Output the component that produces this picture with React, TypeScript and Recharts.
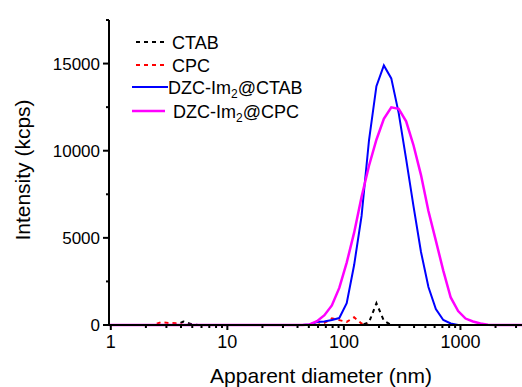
import { LineChart, Line, XAxis, YAxis } from 'recharts';

// DLS size bins (nm)
const sizes = [
  0.9649, 1.117, 1.294, 1.499, 1.736, 2.01, 2.328, 2.696, 3.122, 3.615,
  4.187, 4.849, 5.615, 6.503, 7.531, 8.721, 10.1, 11.7, 13.54, 15.69,
  18.17, 21.04, 24.36, 28.21, 32.67, 37.84, 43.82, 50.75, 58.77, 68.06,
  78.82, 91.28, 105.7, 122.4, 141.8, 164.2, 190.1, 220.2, 255.0, 295.3,
  342.0, 396.1, 458.7, 531.2, 615.1, 712.4, 825.0, 955.4, 1106, 1281,
  1484, 1718, 1990, 2305, 2669, 3091, 3580,
];

const ctab = [
  0, 0, 0, 0, 0, 0, 0, 0, 0, 0,
  200, 60, 0, 0, 0, 0, 0, 0, 0, 0,
  0, 0, 0, 0, 0, 0, 0, 0, 0, 0,
  0, 0, 0, 0, 0, 150, 1250, 250, 0, 0,
  0, 0, 0, 0, 0, 0, 0, 0, 0, 0,
  0, 0, 0, 0, 0, 0, 0,
];

const cpc = [
  0, 0, 0, 0, 0, 0, 0, 160, 120, 100,
  0, 0, 0, 0, 0, 0, 0, 0, 0, 0,
  0, 0, 0, 0, 0, 0, 0, 0, 0, 120,
  380, 280, 180, 440, 80, 0, 0, 0, 0, 0,
  0, 0, 0, 0, 0, 0, 0, 0, 0, 0,
  0, 0, 0, 0, 0, 0, 0,
];

const dzcCtab = [
  0, 0, 0, 0, 0, 0, 0, 0, 0, 0,
  0, 0, 0, 0, 0, 0, 0, 0, 0, 0,
  0, 0, 0, 0, 0, 0, 0, 30, 170, 200,
  290, 400, 1250, 3440, 6260, 10600, 13700, 14890, 14150, 12160,
  9520, 6790, 4190, 2180, 920, 290, 90, 0, 0, 0,
  0, 0, 0, 0, 0, 0, 0,
];

const dzcCpc = [
  0, 0, 0, 0, 0, 0, 0, 0, 0, 0,
  0, 0, 0, 0, 0, 0, 0, 0, 0, 0,
  0, 0, 0, 0, 0, 0, 0, 30, 220, 560,
  1120, 2130, 3580, 5300, 7360, 9140, 10630, 11830, 12490, 12400,
  11690, 10300, 8600, 6540, 4840, 3120, 1580, 800, 370, 200,
  90, 10, 0, 0, 0, 0, 0,
];

const xMajor = [1, 10, 100, 1000];
const xTicks = [
  1, 2, 3, 4, 5, 6, 7, 8, 9,
  10, 20, 30, 40, 50, 60, 70, 80, 90,
  100, 200, 300, 400, 500, 600, 700, 800, 900,
  1000, 2000, 3000,
];
const yTicks = [0, 2500, 5000, 7500, 10000, 12500, 15000, 17500];
const yMajor = [0, 5000, 10000, 15000];

const series = [
  { key: 'ctab', name: 'CTAB', color: '#000000', dash: '4 4', width: 2 },
  { key: 'cpc', name: 'CPC', color: '#ff0000', dash: '4 4', width: 2 },
  { key: 'dzcCtab', name: 'DZC-Im2@CTAB', color: '#0000ff', dash: undefined, width: 2 },
  { key: 'dzcCpc', name: 'DZC-Im2@CPC', color: '#ff00ff', dash: undefined, width: 2.5 },
];

const data = sizes.map((d, i) => ({
  d,
  ctab: ctab[i],
  cpc: cpc[i],
  dzcCtab: dzcCtab[i],
  dzcCpc: dzcCpc[i],
}));

const font = '"Liberation Sans", Arial, sans-serif';

const XTick = (props: any) => {
  const { x, y, payload } = props;
  const major = xMajor.includes(payload.value);
  return (
    <g>
      <line x1={x} y1={y} x2={x} y2={y + (major ? 5 : 3)} stroke="#000" strokeWidth={2} />
      {major && (
        <text x={x} y={y + 23} textAnchor="middle" fontSize={18} fontFamily={font} fill="#000">
          {payload.value}
        </text>
      )}
    </g>
  );
};

const YTick = (props: any) => {
  const { x, y, payload } = props;
  const major = yMajor.includes(payload.value);
  return (
    <g>
      <line x1={x} y1={y} x2={x - (major ? 6 : 3)} y2={y} stroke="#000" strokeWidth={2} />
      {major && (
        <text x={x - 9} y={y + 6} textAnchor="end" fontSize={17} fontFamily={font} fill="#000">
          {payload.value}
        </text>
      )}
    </g>
  );
};

// legend label with subscript "2"
const legendLabel = (name: string) => {
  const parts = name.split('Im2');
  if (parts.length < 2) return name;
  return (
    <>
      {parts[0]}Im
      <tspan dy={4} fontSize={12}>2</tspan>
      <tspan dy={-4}>{parts[1]}</tspan>
    </>
  );
};

const legendRows = [
  { y: 42, x1: 136, x2: 168, tx: 172 },
  { y: 65, x1: 136, x2: 168, tx: 172 },
  { y: 87, x1: 132, x2: 168, tx: 168 },
  { y: 111, x1: 132, x2: 165, tx: 173 },
];

export default function App() {
  return (
    <div style={{ position: 'absolute', left: 0, top: 0, width: 522, height: 387, overflow: 'hidden', background: '#fff' }}>
      <LineChart width={525} height={387} data={data} margin={{ top: 20, right: 0, bottom: 0, left: 0 }}>
        <XAxis
          dataKey="d"
          type="number"
          scale="log"
          domain={['dataMin', 'dataMax']}
          ticks={xTicks}
          interval={0}
          tick={<XTick />}
          tickLine={false}
          tickSize={0}
          tickMargin={0}
          height={62}
          axisLine={{ stroke: '#000', strokeWidth: 2 }}
        />
        <YAxis
          type="number"
          domain={[0, 17500]}
          ticks={yTicks}
          interval={0}
          tick={<YTick />}
          tickLine={false}
          tickSize={0}
          tickMargin={0}
          width={109}
          axisLine={{ stroke: '#000', strokeWidth: 2 }}
        />
        {series.map((s) => (
          <Line
            key={s.key}
            dataKey={s.key}
            type="linear"
            stroke={s.color}
            strokeWidth={s.width}
            strokeDasharray={s.dash}
            dot={false}
            isAnimationActive={false}
          />
        ))}
      </LineChart>
      <svg width={522} height={387} style={{ position: 'absolute', left: 0, top: 0, pointerEvents: 'none' }}>
        <text
          transform="translate(22,170) rotate(-90)"
          textAnchor="middle"
          dominantBaseline="central"
          fontSize={21}
          fontFamily={font}
          fill="#000"
        >
          Intensity (kcps)
        </text>
        <text x={321} y={383} textAnchor="middle" fontSize={21} fontFamily={font} fill="#000">
          Apparent diameter (nm)
        </text>
        {series.map((s, i) => {
          const r = legendRows[i];
          return (
            <g key={s.key}>
              <line x1={r.x1} y1={r.y} x2={r.x2} y2={r.y} stroke={s.color} strokeWidth={s.width} strokeDasharray={s.dash} />
              <text x={r.tx} y={r.y + 6.5} fontSize={18} fontFamily={font} fill="#000">
                {legendLabel(s.name)}
              </text>
            </g>
          );
        })}
      </svg>
    </div>
  );
}
